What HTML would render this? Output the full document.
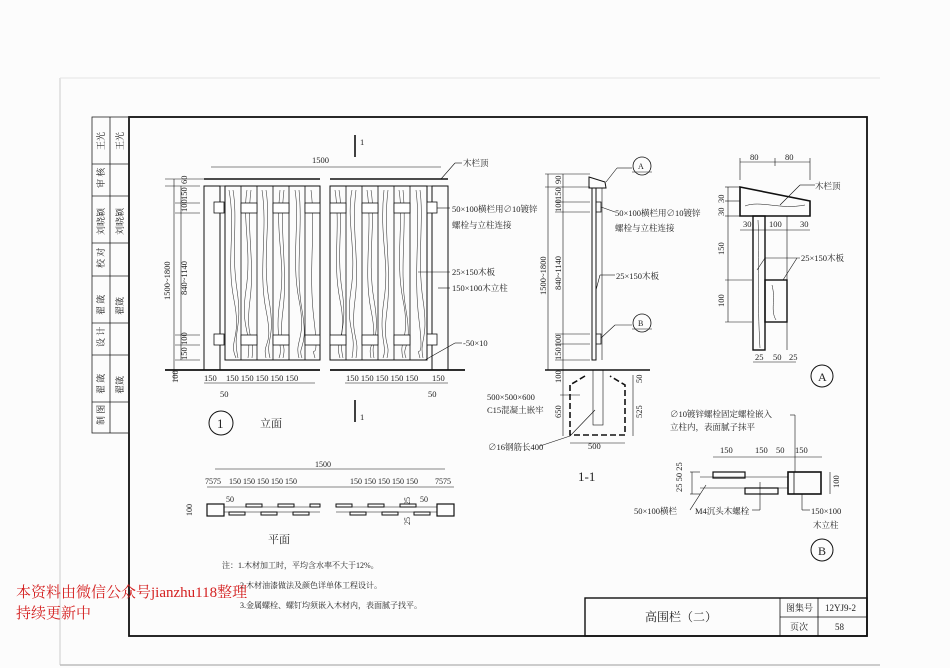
<!DOCTYPE html>
<html><head><meta charset="utf-8"><style>
html,body{margin:0;padding:0;background:#fff;}
svg{display:block;}
text{font-family:"Liberation Serif","Noto Serif CJK SC",serif;fill:#222;}
</style></head><body>
<svg width="950" height="668" viewBox="0 0 950 668" xmlns="http://www.w3.org/2000/svg">
<rect x="0" y="0" width="950" height="668" fill="#fcfcfc"/>
<line x1="60" y1="78" x2="60" y2="665" stroke="#ccc" stroke-width="1"/>
<line x1="60" y1="665" x2="880" y2="665" stroke="#bbb" stroke-width="1.5"/>
<line x1="60" y1="78" x2="880" y2="78" stroke="#e4e4e4" stroke-width="1"/>
<!-- main frame -->
<rect x="129" y="117" width="738" height="519" fill="none" stroke="#111" stroke-width="1.8"/>
<!-- left strip -->
<g stroke="#222" stroke-width="0.8" fill="none">
<rect x="92" y="117" width="37" height="316"/>
<line x1="110" y1="117" x2="110" y2="433"/>
<line x1="92" y1="164" x2="129" y2="164"/><line x1="92" y1="196" x2="129" y2="196"/>
<line x1="92" y1="243" x2="129" y2="243"/><line x1="92" y1="276" x2="129" y2="276"/>
<line x1="92" y1="323" x2="129" y2="323"/><line x1="92" y1="355" x2="129" y2="355"/>
<line x1="92" y1="402" x2="129" y2="402"/>
</g>
<g font-size="9">
<text transform="translate(104,150) rotate(-90)">王光</text>
<text transform="translate(123,150) rotate(-90)">王光</text>
<text transform="translate(104,188) rotate(-90)">审 核</text>
<text transform="translate(104,235) rotate(-90)">刘晓颖</text>
<text transform="translate(123,235) rotate(-90)">刘晓颖</text>
<text transform="translate(104,268) rotate(-90)">校 对</text>
<text transform="translate(104,315) rotate(-90)">翟 箴</text>
<text transform="translate(123,315) rotate(-90)">翟箴</text>
<text transform="translate(104,347) rotate(-90)">设 计</text>
<text transform="translate(104,394) rotate(-90)">翟 箴</text>
<text transform="translate(123,394) rotate(-90)">翟箴</text>
<text transform="translate(104,425) rotate(-90)">制 图</text>
</g>

<!-- ELEVATION -->
<g stroke="#111" fill="none">
<line x1="204" y1="179" x2="320" y2="179" stroke-width="1.6"/>
<line x1="330" y1="179" x2="448" y2="179" stroke-width="1.6"/>
<rect x="204" y="186" width="16" height="184" stroke-width="1"/>
<rect x="432" y="186" width="16" height="184" stroke-width="1"/>
<line x1="220" y1="186" x2="320" y2="186" stroke-width="0.8"/>
<line x1="330" y1="186" x2="432" y2="186" stroke-width="0.8"/>
<rect x="225" y="186" width="95" height="174" stroke-width="1"/>
<rect x="330" y="186" width="97" height="174" stroke-width="1"/>
<g stroke-width="0.8">
<line x1="241" y1="186" x2="241" y2="360"/><line x1="257" y1="186" x2="257" y2="360"/>
<line x1="273" y1="186" x2="273" y2="360"/><line x1="289" y1="186" x2="289" y2="360"/>
<line x1="305" y1="186" x2="305" y2="360"/>
<line x1="346" y1="186" x2="346" y2="360"/><line x1="362" y1="186" x2="362" y2="360"/>
<line x1="378" y1="186" x2="378" y2="360"/><line x1="394" y1="186" x2="394" y2="360"/>
<line x1="410" y1="186" x2="410" y2="360"/>
</g>
<line x1="165" y1="370" x2="320" y2="370" stroke-width="1.8"/>
<line x1="330" y1="370" x2="465" y2="370" stroke-width="1.8"/>
<!-- grain -->
<g stroke-width="0.55" stroke="#333">
<path d="M229 190 C236 230 226 260 234 300 S228 340 236 358"/>
<path d="M233 190 C238 220 231 250 237 290 S232 330 238 358"/>
<path d="M247 190 C242 220 252 250 246 290 S252 330 248 358"/>
<path d="M251 190 C246 230 255 260 250 300 S255 335 252 358"/>
<path d="M262 190 C268 230 258 270 266 310 S262 340 266 358"/>
<path d="M266 190 C271 220 262 260 269 300 S265 340 270 358"/>
<path d="M280 190 C275 240 286 260 280 300 S284 345 279 358"/>
<path d="M284 190 C279 230 288 270 283 310 S287 340 283 358"/>
<path d="M295 190 C300 220 291 260 299 300 S294 340 299 358"/>
<path d="M299 190 C303 230 295 270 302 310 S297 345 302 358"/>
<path d="M311 190 C316 230 308 270 314 320 S310 340 315 358"/>
<path d="M335 190 C341 230 332 260 340 300 S334 340 340 358"/>
<path d="M339 190 C344 220 336 250 342 290 S337 330 343 358"/>
<path d="M352 190 C346 220 357 250 351 290 S357 330 352 358"/>
<path d="M356 190 C351 230 360 260 355 300 S360 335 356 358"/>
<path d="M367 190 C373 230 363 270 371 310 S367 340 371 358"/>
<path d="M371 190 C376 220 367 260 374 300 S370 340 374 358"/>
<path d="M384 190 C379 240 390 260 384 300 S388 345 383 358"/>
<path d="M388 190 C383 230 392 270 387 310 S391 340 387 358"/>
<path d="M399 190 C404 220 395 260 403 300 S398 340 403 358"/>
<path d="M403 190 C407 230 399 270 406 310 S401 345 406 358"/>
<path d="M416 190 C421 230 413 270 419 320 S415 340 420 358"/>
<path d="M420 190 C424 220 417 260 423 300 S419 340 423 358"/>
</g>
<!-- rails -->
<g stroke-width="0.8" fill="#fff">
<rect x="241" y="203" width="16" height="10"/><rect x="273" y="203" width="16" height="10"/><rect x="305" y="203" width="15" height="10"/>
<rect x="330" y="203" width="16" height="10"/><rect x="362" y="203" width="16" height="10"/><rect x="394" y="203" width="16" height="10"/>
<rect x="241" y="335" width="16" height="10"/><rect x="273" y="335" width="16" height="10"/><rect x="305" y="335" width="15" height="10"/>
<rect x="330" y="335" width="16" height="10"/><rect x="362" y="335" width="16" height="10"/><rect x="394" y="335" width="16" height="10"/>
<rect x="214" y="202" width="10" height="11"/><rect x="427" y="202" width="10" height="11"/>
<rect x="214" y="334" width="10" height="11"/><rect x="427" y="334" width="10" height="11"/>
</g>
<!-- dims -->
<g stroke-width="0.6">
<line x1="211" y1="167" x2="441" y2="167"/>
<line x1="174" y1="179" x2="174" y2="380"/><line x1="181" y1="186" x2="181" y2="360"/>
<line x1="165" y1="179" x2="204" y2="179"/><line x1="165" y1="186" x2="200" y2="186"/>
<line x1="175" y1="203" x2="200" y2="203"/><line x1="175" y1="213" x2="200" y2="213"/>
<line x1="175" y1="335" x2="200" y2="335"/><line x1="175" y1="345" x2="200" y2="345"/>
<line x1="175" y1="360" x2="200" y2="360"/>
<line x1="204" y1="383" x2="315" y2="383"/><line x1="345" y1="383" x2="448" y2="383"/>
<line x1="355" y1="135" x2="355" y2="157" stroke-width="1.6"/>
<line x1="355" y1="400" x2="355" y2="422" stroke-width="1.6"/>
<line x1="441" y1="179" x2="455" y2="163"/><line x1="455" y1="163" x2="462" y2="163"/>
<line x1="437" y1="208" x2="450" y2="208"/>
<line x1="418" y1="272" x2="450" y2="272"/><line x1="438" y1="288" x2="450" y2="288"/>
<line x1="425" y1="360" x2="455" y2="343"/><line x1="455" y1="343" x2="462" y2="343"/>
</g>
<circle cx="221" cy="423" r="12" stroke-width="1"/>
</g>
<g font-size="8.5">
<text x="312" y="163">1500</text>
<text x="360" y="145">1</text><text x="360" y="420">1</text>
<text x="463" y="166">木栏顶</text>
<text x="452" y="212">50×100横栏用∅10镀锌</text>
<text x="452" y="228">螺栓与立柱连接</text>
<text x="452" y="275">25×150木板</text>
<text x="452" y="291">150×100木立柱</text>
<text x="463" y="346">-50×10</text>
<text transform="translate(170,300) rotate(-90)">1500~1800</text>
<text transform="translate(187,295) rotate(-90)">840~1140</text>
<text transform="translate(187,184) rotate(-90)">60</text>
<text transform="translate(187,200) rotate(-90)">150</text>
<text transform="translate(187,212) rotate(-90)">100</text>
<text transform="translate(187,345) rotate(-90)">100</text>
<text transform="translate(187,360) rotate(-90)">150</text>
<text transform="translate(178,383) rotate(-90)">100</text>
<text x="204" y="381">150</text><text x="226" y="381">150 150 150 150 150</text>
<text x="346" y="381">150 150 150 150 150</text><text x="432" y="381">150</text>
<text x="220" y="397">50</text><text x="428" y="397">50</text>
<text x="217" y="428" font-size="13">1</text>
<text x="260" y="427" font-size="11">立面</text>
</g>

<!-- SECTION 1-1 -->
<g stroke="#111" fill="none">
<path d="M589 177 L605 182 L606 188 L589 188 Z" stroke-width="1"/>
<rect x="592" y="188" width="4" height="172" stroke-width="1"/>
<line x1="602" y1="188" x2="602" y2="360" stroke-width="0.6"/>
<rect x="596" y="202" width="5" height="10" stroke-width="0.8"/>
<rect x="596" y="334" width="5" height="10" stroke-width="0.8"/>
<line x1="545" y1="370" x2="650" y2="370" stroke-width="1.6"/>
<path d="M570 385 L570 435 L625 435 L625 385 L610 376 M585 376 L570 385" stroke-width="1.6" stroke-dasharray="6,3"/>
<rect x="593" y="370" width="10" height="55" stroke-width="0.6"/>
<g stroke-width="0.6">
<line x1="563" y1="174" x2="563" y2="370"/><line x1="548" y1="174" x2="548" y2="370"/>
<line x1="545" y1="174" x2="590" y2="174"/><line x1="545" y1="187" x2="590" y2="187"/>
<line x1="555" y1="202" x2="590" y2="202"/><line x1="555" y1="212" x2="590" y2="212"/>
<line x1="555" y1="334" x2="590" y2="334"/><line x1="555" y1="344" x2="590" y2="344"/>
<line x1="555" y1="360" x2="590" y2="360"/>
<line x1="563" y1="370" x2="563" y2="436"/>
<line x1="633" y1="375" x2="633" y2="436"/>
<line x1="570" y1="443" x2="625" y2="443"/>
<line x1="560" y1="395" x2="580" y2="395"/><line x1="540" y1="446" x2="570" y2="436"/>
<line x1="570" y1="436" x2="595" y2="410"/>
<line x1="606" y1="182" x2="617" y2="168"/><line x1="617" y1="168" x2="632" y2="168"/>
<line x1="601" y1="207" x2="615" y2="212"/><line x1="596" y1="290" x2="600" y2="275"/><line x1="600" y1="275" x2="615" y2="275"/>
<line x1="601" y1="338" x2="615" y2="325"/><line x1="615" y1="325" x2="632" y2="325"/>
<line x1="632" y1="172" x2="652" y2="172"/><line x1="632" y1="329" x2="652" y2="329"/>
</g>
<circle cx="642" cy="166" r="9" stroke-width="0.8"/>
<circle cx="642" cy="323" r="9" stroke-width="0.8"/>
</g>
<g font-size="8.5">
<text x="638" y="169" font-size="8">A</text><text x="638" y="326" font-size="8">B</text>
<text x="615" y="216">50×100横栏用∅10镀锌</text>
<text x="615" y="231">螺栓与立柱连接</text>
<text x="616" y="279">25×150木板</text>
<text transform="translate(546,295) rotate(-90)">1500~1800</text>
<text transform="translate(561,290) rotate(-90)">840~1140</text>
<text transform="translate(561,184) rotate(-90)">90</text>
<text transform="translate(561,200) rotate(-90)">150</text>
<text transform="translate(561,212) rotate(-90)">100</text>
<text transform="translate(561,360) rotate(-90)">150100</text>
<text transform="translate(561,383) rotate(-90)">100</text>
<text transform="translate(561,418) rotate(-90)">650</text>
<text transform="translate(642,418) rotate(-90)">525</text>
<text transform="translate(642,383) rotate(-90)">50</text>
<text x="487" y="400">500×500×600</text>
<text x="487" y="413">C15混凝土嵌牢</text>
<text x="488" y="450">∅16钢筋长400</text>
<text x="588" y="449">500</text>
<text x="578" y="481" font-size="13">1-1</text>
</g>

<!-- DETAIL A -->
<g stroke="#111" fill="none">
<path d="M740 187 L810 201 L810 216 L740 216 Z" stroke-width="1.6"/>
<rect x="753" y="216" width="12" height="134" stroke-width="1.4"/>
<rect x="765" y="280" width="22" height="42" stroke-width="1.4"/>
<line x1="787" y1="216" x2="787" y2="350" stroke-width="0.6"/>
<g stroke-width="0.5"><path d="M745 206 C760 200 780 210 805 205"/><path d="M758 220 C760 260 757 300 760 348"/><path d="M772 285 C776 300 770 310 776 320"/></g>
<g stroke-width="0.6">
<line x1="740" y1="162" x2="810" y2="162"/><line x1="740" y1="158" x2="740" y2="180"/><line x1="775" y1="158" x2="775" y2="166"/><line x1="810" y1="158" x2="810" y2="180"/>
<line x1="728" y1="187" x2="728" y2="216"/><line x1="725" y1="187" x2="740" y2="187"/><line x1="725" y1="201" x2="740" y2="201"/><line x1="725" y1="216" x2="740" y2="216"/>
<line x1="740" y1="230" x2="810" y2="230"/>
<line x1="728" y1="216" x2="728" y2="322"/><line x1="725" y1="280" x2="752" y2="280"/><line x1="725" y1="322" x2="752" y2="322"/>
<line x1="753" y1="362" x2="796" y2="362"/>
<line x1="780" y1="205" x2="800" y2="185"/><line x1="800" y1="185" x2="815" y2="185"/>
<line x1="757" y1="270" x2="765" y2="258"/><line x1="765" y1="258" x2="800" y2="258"/><line x1="783" y1="280" x2="797" y2="258"/>
</g>
<circle cx="822" cy="376" r="11" stroke-width="1"/>
</g>
<g font-size="8.5">
<text x="750" y="160">80</text><text x="785" y="160">80</text>
<text x="815" y="189">木栏顶</text>
<text transform="translate(724,203) rotate(-90)">30</text><text transform="translate(724,216) rotate(-90)">30</text>
<text x="743" y="227">30</text><text x="769" y="227">100</text><text x="800" y="227">30</text>
<text transform="translate(724,255) rotate(-90)">150</text><text transform="translate(724,307) rotate(-90)">100</text>
<text x="801" y="261">25×150木板</text>
<text x="755" y="360">25</text><text x="773" y="360">50</text><text x="789" y="360">25</text>
<text x="818" y="381" font-size="12">A</text>
</g>

<!-- DETAIL B -->
<g stroke="#111" fill="none">
<rect x="713" y="472" width="32" height="6" stroke-width="1.2"/>
<rect x="745" y="488" width="33" height="6" stroke-width="1.2"/>
<rect x="788" y="472" width="33" height="22" stroke-width="1.6"/>
<rect x="788" y="472" width="6" height="22" stroke-width="0.8"/>
<g stroke-width="0.6">
<line x1="700" y1="477" x2="788" y2="477"/><line x1="700" y1="488" x2="788" y2="488"/>
<line x1="713" y1="457" x2="822" y2="457"/>
<line x1="692" y1="472" x2="692" y2="494"/><line x1="690" y1="472" x2="700" y2="472"/><line x1="690" y1="494" x2="700" y2="494"/>
<line x1="830" y1="472" x2="830" y2="494"/>
<line x1="790" y1="415" x2="795" y2="415"/><line x1="795" y1="415" x2="795" y2="472"/>
<line x1="706" y1="485" x2="690" y2="510"/>
<line x1="760" y1="482" x2="760" y2="510"/><line x1="760" y1="510" x2="752" y2="510"/>
<line x1="802" y1="494" x2="802" y2="510"/><line x1="802" y1="510" x2="810" y2="510"/>
</g>
<circle cx="822" cy="550" r="11" stroke-width="1"/>
</g>
<g font-size="8.5">
<text x="670" y="417">∅10镀锌螺栓固定螺栓嵌入</text>
<text x="670" y="430">立柱内，表面腻子抹平</text>
<text x="720" y="453">150</text><text x="755" y="453">150</text><text x="776" y="453">50</text><text x="795" y="453">150</text>
<text transform="translate(682,492) rotate(-90)">25 50 25</text>
<text transform="translate(839,488) rotate(-90)">100</text>
<text x="634" y="514">50×100横栏</text>
<text x="695" y="514">M4沉头木螺栓</text>
<text x="811" y="514">150×100</text>
<text x="813" y="528">木立柱</text>
<text x="818" y="555" font-size="12">B</text>
</g>

<!-- PLAN -->
<g stroke="#111" fill="none">
<rect x="207" y="504" width="17" height="12" stroke-width="1.2"/>
<rect x="437" y="504" width="17" height="12" stroke-width="1.2"/>
<g stroke-width="0.6">
<line x1="224" y1="507" x2="320" y2="507"/><line x1="224" y1="512" x2="320" y2="512"/>
<line x1="336" y1="507" x2="437" y2="507"/><line x1="336" y1="512" x2="437" y2="512"/>
<line x1="215" y1="469" x2="445" y2="469"/>
<line x1="207" y1="487" x2="454" y2="487"/>
</g>
<g stroke-width="1">
<rect x="246" y="504" width="16" height="3"/><rect x="278" y="504" width="16" height="3"/><rect x="310" y="504" width="10" height="3"/>
<rect x="229" y="512" width="16" height="3"/><rect x="261" y="512" width="16" height="3"/><rect x="293" y="512" width="16" height="3"/>
<rect x="336" y="504" width="16" height="3"/><rect x="368" y="504" width="16" height="3"/><rect x="400" y="504" width="16" height="3"/>
<rect x="350" y="512" width="16" height="3"/><rect x="382" y="512" width="16" height="3"/><rect x="414" y="512" width="16" height="3"/>
</g>
</g>
<g font-size="8">
<text x="315" y="467">1500</text>
<text x="205" y="484">7575</text><text x="229" y="484">150 150 150 150 150</text>
<text x="350" y="484">150 150 150 150 150</text><text x="435" y="484">7575</text>
<text x="226" y="502">50</text><text x="420" y="502">50</text>
<text transform="translate(192,516) rotate(-90)">100</text>
<text transform="translate(410,505) rotate(-90)">25</text>
<text transform="translate(410,525) rotate(-90)">25</text>
<text x="268" y="543" font-size="11">平面</text>
</g>

<!-- notes -->
<g font-size="8">
<text x="222" y="568">注：1.木材加工时，平均含水率不大于12%。</text>
<text x="240" y="588">2.木材油漆做法及颜色详单体工程设计。</text>
<text x="240" y="608">3.金属螺栓、螺钉均须嵌入木材内，表面腻子找平。</text>
</g>
<text x="16" y="597" font-size="15" style="fill:#d42020">本资料由微信公众号jianzhu118整理</text>
<text x="16" y="618" font-size="15" style="fill:#d42020">持续更新中</text>

<!-- title block -->
<g stroke="#111" fill="none">
<rect x="585" y="598" width="282" height="38" stroke-width="1.4"/>
<line x1="780" y1="598" x2="780" y2="636" stroke-width="0.8"/>
<line x1="818" y1="598" x2="818" y2="636" stroke-width="0.8"/>
<line x1="780" y1="617" x2="867" y2="617" stroke-width="0.8"/>
</g>
<g font-size="9">
<text x="645" y="621" font-size="12">高围栏（二）</text>
<text x="786" y="611">图集号</text><text x="825" y="611">12YJ9-2</text>
<text x="790" y="630">页次</text><text x="835" y="630">58</text>
</g>
</svg>
</body></html>
